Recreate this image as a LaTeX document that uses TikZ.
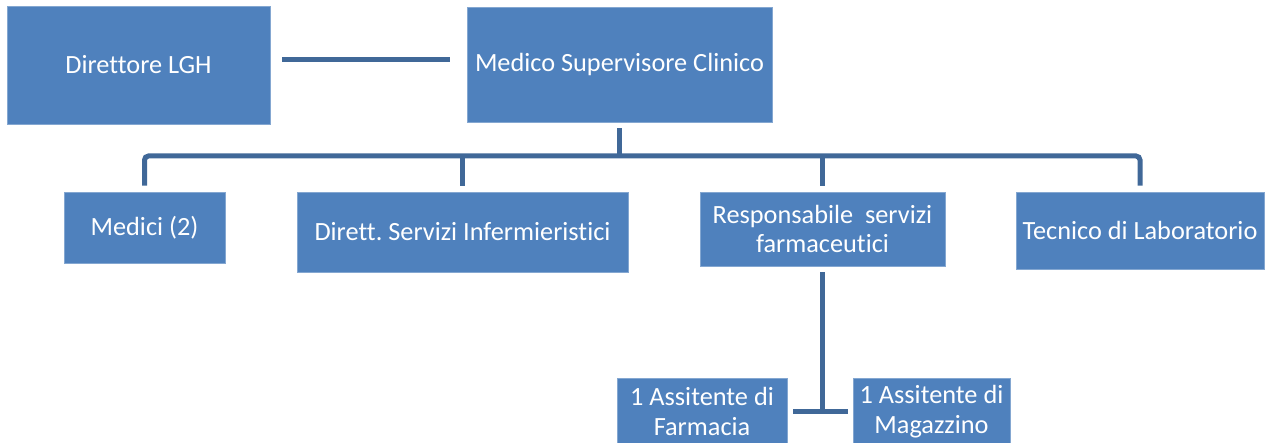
\documentclass[tikz,border=0pt]{standalone}
\usepackage{fontspec}
\setmainfont[Ligatures={NoCommon}]{Carlito}
\usetikzlibrary{calc}
\definecolor{boxblue}{RGB}{79,129,189}
\definecolor{linkblue}{RGB}{64,104,152}
\frenchspacing
\begin{document}
\begin{tikzpicture}[x=1pt,y=-1pt,
  box/.style={fill=boxblue, draw=boxblue!70!white, line width=0.6pt, inner sep=0pt, text=white,
    align=center, font=\fontsize{26.3}{30}\selectfont},
  conn/.style={draw=linkblue, line width=5pt}]
\useasboundingbox (0,0) rectangle (1270,443);
\node[box, minimum width=263pt, minimum height=118pt] (dir) at (138.5,65) {Direttore LGH};
\node[box, minimum width=305pt, minimum height=115pt] (med) at (619.5,64.5) {Medico Supervisore Clinico};
\node[box, minimum width=161pt, minimum height=71pt] (medici) at (144.5,227.5) {Medici (2)};
\node[box, minimum width=331pt, minimum height=80pt] (inf) at (462.5,232) {Dirett.\ Servizi Infermieristici};
\node[box, minimum width=245pt, minimum height=74pt] (resp) at (822.5,229) {Responsabile\ \ servizi\\[-1pt]farmaceutici};
\node[box, minimum width=248pt, minimum height=77pt] (tec) at (1140,230.5) {Tecnico di Laboratorio};
\node[box, minimum width=170pt, minimum height=66pt] (farm) at (702,411.5) {1 Assitente di\\Farmacia};
\node[box, minimum width=157pt, minimum height=66pt] (mag) at (931.5,411.5) {1 Assitente di\\Magazzino};
\coordinate (bus) at (620,156);
\draw[conn, shorten <=12pt, shorten >=17pt] ([yshift=5pt]dir.east) -- ([yshift=4.5pt]med.west);
\draw[conn] ([yshift=-6pt]med.south) -- (med.south |- bus);
\draw[conn, rounded corners=4pt] ([yshift=6pt]medici.north) |- (bus) -| ([yshift=6pt]tec.north);
\draw[conn] ([yshift=6pt]inf.north) -- (inf.north |- bus);
\draw[conn] ([yshift=6pt]resp.north) -- (resp.north |- bus);
\draw[conn] ([yshift=-6pt]resp.south) -- (resp.south |- farm.east);
\draw[conn] ([xshift=6pt]farm.east) -- ([xshift=-5pt]mag.west);
\end{tikzpicture}
\end{document}
